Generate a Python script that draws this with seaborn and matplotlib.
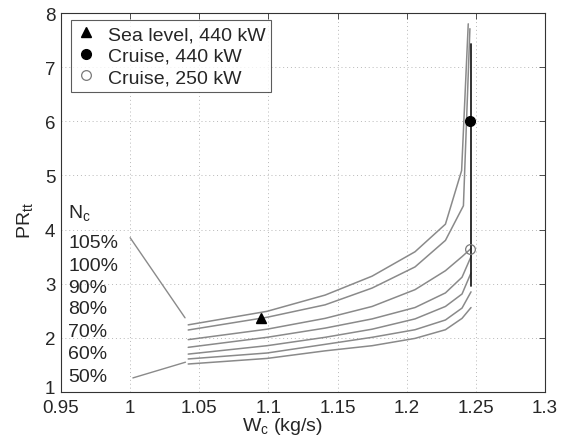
import matplotlib
matplotlib.use('Agg')
import matplotlib.pyplot as plt
import matplotlib.transforms as mtransforms
import pandas as pd
import seaborn as sns

# speed lines: corrected mass flow W_c (kg/s) vs total-to-total pressure ratio
speeds = ['105%', '100%', '90%', '80%', '70%', '60%', '50%']
w_105 = [1.042, 1.099, 1.141, 1.175, 1.206, 1.228, 1.2397, 1.2445]
pr_105 = [2.24, 2.49, 2.79, 3.14, 3.59, 4.10, 5.09, 7.80]
w_100 = [1.042, 1.099, 1.141, 1.175, 1.206, 1.228, 1.241, 1.2457]
pr_100 = [2.145, 2.38, 2.61, 2.92, 3.31, 3.80, 4.44, 7.71]
w_90 = [1.042, 1.099, 1.141, 1.175, 1.206, 1.228, 1.240, 1.2465]
pr_90 = [1.967, 2.16, 2.36, 2.58, 2.89, 3.24, 3.50, 3.65]
w_80 = [1.042, 1.099, 1.141, 1.175, 1.206, 1.228, 1.240, 1.2465]
pr_80 = [1.825, 2.01, 2.18, 2.35, 2.56, 2.83, 3.12, 3.50]
w_70 = [1.042, 1.099, 1.141, 1.175, 1.206, 1.228, 1.240, 1.2465]
pr_70 = [1.70, 1.855, 2.01, 2.16, 2.35, 2.58, 2.81, 3.20]
w_60 = [1.042, 1.099, 1.141, 1.175, 1.206, 1.228, 1.240, 1.2465]
pr_60 = [1.61, 1.72, 1.88, 2.01, 2.15, 2.33, 2.55, 2.85]
w_50 = [1.042, 1.099, 1.141, 1.175, 1.206, 1.228, 1.240, 1.2465]
pr_50 = [1.517, 1.62, 1.76, 1.855, 1.99, 2.15, 2.36, 2.56]

# choke line (black vertical)
choke_w = [1.2465, 1.2465]
choke_pr = [2.95, 7.43]

# operating points
sea_w, sea_pr = 1.0946, 2.37
cr440_w, cr440_pr = 1.2457, 6.01
cr250_w, cr250_pr = 1.2457, 3.65

# speed label positions (baselines) and leader lines
label_pr = [3.67, 3.26, 2.85, 2.45, 2.04, 1.62, 1.20]
lead_top_w, lead_top_pr = [1.0, 1.0397], [3.85, 2.37]
lead_bot_w, lead_bot_pr = [1.002, 1.04], [1.26, 1.55]

all_w = [w_105, w_100, w_90, w_80, w_70, w_60, w_50]
all_pr = [pr_105, pr_100, pr_90, pr_80, pr_70, pr_60, pr_50]
rows = []
for s, ws, ps in zip(speeds, all_w, all_pr):
    for i, (a, b) in enumerate(zip(ws, ps)):
        rows.append({'speed': s, 'order': i, 'W': a, 'PR': b})
df = pd.DataFrame(rows)

sns.set_style('white')
plt.rcParams['font.family'] = ['Liberation Sans', 'DejaVu Sans']
plt.rcParams['mathtext.fontset'] = 'custom'
plt.rcParams['mathtext.rm'] = 'Liberation Sans'
plt.rcParams['mathtext.it'] = 'Liberation Sans:italic'
plt.rcParams['mathtext.default'] = 'regular'

fs = 14

fig = plt.figure(figsize=(5.61, 4.39), dpi=100)
ax = fig.add_axes([0.1087, 0.1048, 0.8628, 0.8633])

sns.lineplot(data=df, x='W', y='PR', units='speed', estimator=None, sort=False,
             color='#8a8a8a', lw=1.1, ax=ax)
ax.plot(choke_w, choke_pr, color='#222222', lw=1.3)
ax.plot(lead_top_w, lead_top_pr, color='#8a8a8a', lw=1.0)
ax.plot(lead_bot_w, lead_bot_pr, color='#8a8a8a', lw=1.0)

ax.plot([sea_w], [sea_pr], '^', color='black', ms=7, label='Sea level, 440 kW')
ax.plot([cr440_w], [cr440_pr], 'o', color='black', ms=7, label='Cruise, 440 kW')
ax.plot([cr250_w], [cr250_pr], 'o', mfc='none', mec='#7a7a7a', mew=0.9, ms=7,
        label='Cruise, 250 kW')

ax.text(0.9553, 4.23, 'N$_c$', fontsize=fs, ha='left', va='baseline')
for s, p in zip(speeds, label_pr):
    ax.text(0.9553, p, s, fontsize=fs, ha='left', va='baseline')

ax.set_xlim(0.95, 1.3)
ax.set_ylim(1, 8)
xt = [0.95, 1.0, 1.05, 1.1, 1.15, 1.2, 1.25, 1.3]
ax.set_xticks(xt)
ax.set_xticklabels(['0.95', '1', '1.05', '1.1', '1.15', '1.2', '1.25', '1.3'])
ax.set_yticks(range(1, 9))
ax.tick_params(direction='in', length=4, width=0.6, top=True, right=True,
               labelsize=13.5, color='#333333')
ax.tick_params(axis='x', pad=5)
ax.tick_params(axis='y', pad=4)
ax.grid(True, linestyle=(0, (1, 3)), color='#b8b8b8', lw=0.7)
for sp in ax.spines.values():
    sp.set_color('#333333')
    sp.set_linewidth(0.8)

# nudge the lowest y tick label up so it sits just above "0.95"
lab0 = ax.get_yticklabels()[0]
lab0.set_transform(lab0.get_transform() +
                   mtransforms.ScaledTranslation(0, 4 / 72, fig.dpi_scale_trans))

ax.set_xlabel('W$_c$ (kg/s)', fontsize=fs)
ax.set_ylabel('PR$_{tt}$', fontsize=fs, va='center')
ax.xaxis.set_label_coords(0.457, -0.06)
ax.yaxis.set_label_coords(-0.075, 0.455)

leg = ax.legend(loc='upper left', bbox_to_anchor=(0.02, 0.982), borderaxespad=0,
                fontsize=fs, frameon=True, fancybox=False, handlelength=1.0,
                handletextpad=0.6, labelspacing=0.2, borderpad=0.3)
leg.get_frame().set_edgecolor('#333333')
leg.get_frame().set_linewidth(0.8)

fig.savefig('out.png', dpi=100)
